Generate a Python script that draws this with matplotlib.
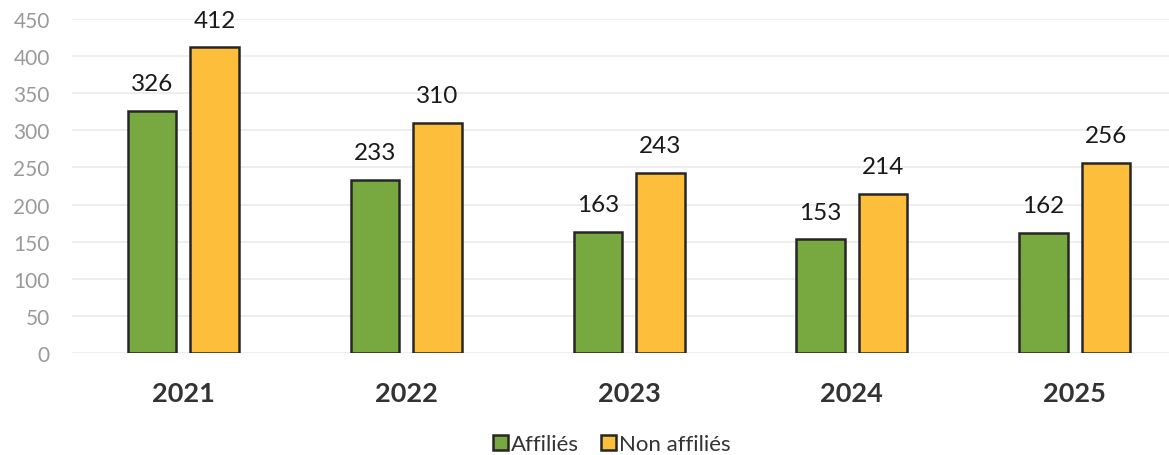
import matplotlib
matplotlib.use("Agg")
import matplotlib.pyplot as plt
import numpy as np

years = ["2021", "2022", "2023", "2024", "2025"]
affilies = [326, 233, 163, 153, 162]
non_affilies = [412, 310, 243, 214, 256]
y_ticks = [0, 50, 100, 150, 200, 250, 300, 350, 400, 450]

plt.rcParams["font.family"] = ["Lato", "DejaVu Sans"]

W, H = 1169, 456
fig = plt.figure(figsize=(W / 100, H / 100), dpi=100)
ax = fig.add_axes([72 / W, 102 / H, (W - 72) / W, 334 / H])

x = np.arange(len(years))
bw = 0.218
off = 0.14
green = "#77a940"
yellow = "#fdbf3b"
edge = "#262626"

b1 = ax.bar(x - off, affilies, bw, color=green, edgecolor=edge, linewidth=1.8, label="Affiliés", zorder=3)
b2 = ax.bar(x + off, non_affilies, bw, color=yellow, edgecolor=edge, linewidth=1.8, label="Non affiliés", zorder=3)

for bars, vals in ((b1, affilies), (b2, non_affilies)):
    for r, v in zip(bars, vals):
        ax.annotate(str(v), (r.get_x() + r.get_width() / 2, v), xytext=(0, 12),
                    textcoords="offset points", ha="center", va="bottom",
                    fontsize=17.5, color="#1a1a1a")

ax.set_xlim(-0.5, 4.5 - 17 / 222)
ax.set_ylim(0, 450)
ax.set_yticks(y_ticks)
ax.set_yticklabels([str(t) for t in y_ticks], fontsize=15, color="#9a9a9a")
ax.set_xticks(x)
ax.set_xticklabels(years, fontsize=19.5, fontweight="bold", color="#333333")
ax.tick_params(axis="both", length=0)
ax.tick_params(axis="x", pad=20)
ax.tick_params(axis="y", pad=16)
ax.yaxis.grid(True, color="#ebebeb", linewidth=1.2, zorder=0)
ax.set_axisbelow(True)
for s in ax.spines.values():
    s.set_visible(False)

fig.legend(handles=[b1, b2], labels=["Affiliés", "Non affiliés"], loc="center",
           bbox_to_anchor=(612 / W, 1 - 445 / H), ncol=2, frameon=False,
           fontsize=16, handlelength=0.65, handleheight=0.65, handletextpad=0.15,
           columnspacing=1.0, labelcolor="#333333")

fig.savefig("out.png", dpi=100)
